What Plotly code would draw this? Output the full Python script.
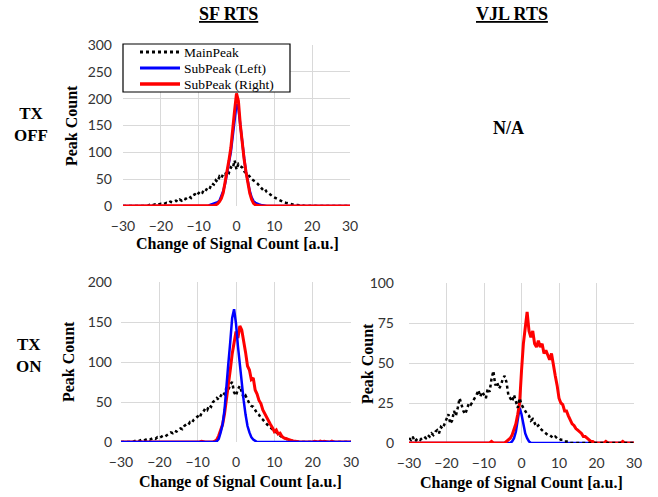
import plotly.graph_objects as go

# ---------------- data ----------------
BINS = [
    -30.0, -29.5, -29.0, -28.5, -28.0, -27.5, -27.0, -26.5, -26.0, -25.5,
    -25.0, -24.5, -24.0, -23.5, -23.0, -22.5, -22.0, -21.5, -21.0, -20.5,
    -20.0, -19.5, -19.0, -18.5, -18.0, -17.5, -17.0, -16.5, -16.0, -15.5,
    -15.0, -14.5, -14.0, -13.5, -13.0, -12.5, -12.0, -11.5, -11.0, -10.5,
    -10.0, -9.5, -9.0, -8.5, -8.0, -7.5, -7.0, -6.5, -6.0, -5.5,
    -5.0, -4.5, -4.0, -3.5, -3.0, -2.5, -2.0, -1.5, -1.0, -0.5,
    0.0, 0.5, 1.0, 1.5, 2.0, 2.5, 3.0, 3.5, 4.0, 4.5,
    5.0, 5.5, 6.0, 6.5, 7.0, 7.5, 8.0, 8.5, 9.0, 9.5,
    10.0, 10.5, 11.0, 11.5, 12.0, 12.5, 13.0, 13.5, 14.0, 14.5,
    15.0, 15.5, 16.0, 16.5, 17.0, 17.5, 18.0, 18.5, 19.0, 19.5,
    20.0, 20.5, 21.0, 21.5, 22.0, 22.5, 23.0, 23.5, 24.0, 24.5,
    25.0, 25.5, 26.0, 26.5, 27.0, 27.5, 28.0, 28.5, 29.0, 29.5,
    30.0,
]

Z10 = [0, 0, 0, 0, 0, 0, 0, 0, 0, 0]

# SF RTS, TX OFF
SF_OFF_MAIN = (Z10 +
    [0, 0, 0, 0, 2, 1, 2, 3, 2, 3] +
    [4, 3, 5, 6, 5, 8, 7, 9, 10, 8] +
    [12, 10, 14, 13, 16, 18, 15, 20, 22, 19] +
    [24, 28, 25, 32, 30, 36, 34, 42, 40, 48] +
    [45, 55, 52, 60, 58, 66, 62, 72, 70, 85] +
    [68, 78, 74, 72, 65, 62, 58, 55, 50, 48] +
    [45, 42, 38, 34, 30, 32, 26, 24, 20, 18] +
    [16, 14, 12, 10, 8, 7, 6, 5, 4, 3] +
    [3, 2, 2, 1, 1, 1, 0, 1, 0, 0] +
    [1, 0, 0, 0, 0, 0, 0, 0, 0, 0] +
    Z10 + [0])
SF_OFF_LEFT = (Z10 + Z10 + Z10 + Z10 +
    [0, 0, 0, 0, 1, 0, 2, 3, 4, 5] +
    [7, 10, 18, 28, 42, 60, 80, 100, 130, 165] +
    [190, 182, 148, 120, 90, 64, 44, 28, 16, 9] +
    [6, 4, 3, 2, 1, 1, 0, 0, 0, 0] +
    Z10 + Z10 + Z10 + Z10 + [0])
SF_OFF_RIGHT = (Z10 + Z10 + Z10 + Z10 +
    [0, 0, 0, 0, 0, 0, 0, 0, 1, 2] +
    [4, 8, 14, 25, 44, 62, 85, 108, 138, 178] +
    [210, 196, 152, 116, 88, 64, 42, 24, 12, 5] +
    [2, 1, 0, 0, 0, 0, 0, 0, 0, 0] +
    Z10 + Z10 + Z10 + Z10 + [0])

# SF RTS, TX ON
SF_ON_MAIN = (
    [0, 0, 0, 0, 0, 0, 0, 1, 2, 1] +
    [2, 3, 2, 3, 4, 3, 4, 5, 4, 6] +
    [5, 6, 8, 7, 9, 10, 12, 11, 14, 13] +
    [15, 17, 16, 20, 22, 21, 25, 24, 28, 30] +
    [32, 30, 36, 38, 42, 40, 46, 44, 50, 52] +
    [55, 53, 58, 62, 60, 68, 65, 72, 75, 62] +
    [58, 66, 70, 62, 55, 58, 52, 48, 45, 44] +
    [40, 36, 34, 30, 28, 25, 22, 20, 18, 16] +
    [13, 11, 9, 8, 6, 5, 4, 3, 2, 2] +
    [1, 1, 0, 0, 0, 0, 0, 0, 0, 0] +
    Z10 + Z10 + [0])
SF_ON_LEFT = (Z10 + Z10 + Z10 + Z10 + Z10 +
    [1, 4, 12, 22, 40, 65, 98, 125, 155, 166] +
    [148, 120, 95, 72, 52, 34, 20, 12, 6, 3] +
    [1, 0, 0, 0, 0, 0, 0, 0, 0, 0] +
    Z10 + Z10 + Z10 + Z10 + [0])
SF_ON_RIGHT = (Z10 + Z10 + Z10 + Z10 +
    [0, 0, 1, 0, 0, 0, 0, 0, 0, 1] +
    [3, 8, 15, 22, 35, 52, 70, 90, 110, 125] +
    [138, 130, 145, 140, 128, 112, 95, 90, 78, 80] +
    [65, 60, 52, 48, 40, 35, 30, 26, 22, 18] +
    [13, 15, 10, 11, 7, 5, 4, 3, 2, 1] +
    [1, 1, 0, 0, 0, 0, 0, 0, 0, 0] +
    [0, 1, 0, 0, 1, 0, 1, 0, 0, 0] +
    [1, 0, 0, 0, 0, 0, 0, 0, 0, 0] + [0])

# VJL RTS, TX ON
VJL_ON_MAIN = (
    [3, 2, 4, 1, 2, 3, 2, 3, 4, 3] +
    [5, 4, 6, 5, 7, 8, 6, 10, 9, 12] +
    [15, 18, 12, 14, 20, 17, 22, 28, 24, 20] +
    [18, 22, 25, 24, 26, 28, 30, 33, 29, 32] +
    [30, 28, 34, 32, 40, 45, 36, 38, 34, 36] +
    [40, 42, 38, 30, 28, 26, 30, 25, 22, 28] +
    [24, 22, 20, 18, 17, 14, 15, 12, 10, 11] +
    [9, 8, 7, 6, 5, 5, 4, 3, 4, 3] +
    [3, 2, 2, 1, 1, 1, 0, 0, 0, 0] +
    Z10 + Z10 + Z10 + [0])
VJL_ON_LEFT = (Z10 + Z10 + Z10 + Z10 + Z10 +
    [0, 0, 0, 0, 0, 1, 3, 7, 14, 22] +
    [18, 12, 6, 3, 1, 0, 0, 0, 0, 0] +
    Z10 + Z10 + Z10 + Z10 + Z10 + [0])
VJL_ON_RIGHT = (Z10 + Z10 + Z10 + Z10 +
    [0, 0, 0, 0, 1, 0, 0, 0, 0, 0] +
    [0, 0, 1, 2, 3, 5, 8, 12, 18, 25] +
    [45, 62, 72, 82, 70, 66, 70, 62, 60, 64] +
    [60, 62, 56, 58, 55, 52, 56, 48, 42, 36] +
    [28, 25, 24, 20, 20, 17, 14, 12, 11, 9] +
    [8, 7, 6, 4, 4, 3, 2, 1, 1, 0] +
    [0, 0, 0, 0, 0, 1, 0, 0, 0, 0] +
    [0, 0, 0, 0, 1, 0, 0, 0, 0, 0] + [0])

SERIES_NAMES = ["MainPeak", "SubPeak (Left)", "SubPeak (Right)"]
X_TICKS = [-30, -20, -10, 0, 10, 20, 30]

# ---------------- styling ----------------
SERIF = "Liberation Serif, Times New Roman, serif"
SANS = "Lato, Open Sans, sans-serif"
GRID = "#d9d9d9"

STYLE = {
    "MainPeak": dict(color="black", width=2.5, dash="dot"),
    "SubPeak (Left)": dict(color="#0000ff", width=2.5),
    "SubPeak (Right)": dict(color="#ff0000", width=3),
}

fig = go.Figure()


def add(name, ys, xa, ya):
    fig.add_trace(go.Scatter(
        x=BINS, y=ys, mode="lines", name=name, line=STYLE[name],
        xaxis=xa, yaxis=ya, showlegend=False,
    ))


add("MainPeak", SF_OFF_MAIN, "x", "y")
add("SubPeak (Left)", SF_OFF_LEFT, "x", "y")
add("SubPeak (Right)", SF_OFF_RIGHT, "x", "y")

add("MainPeak", SF_ON_MAIN, "x2", "y2")
add("SubPeak (Right)", SF_ON_RIGHT, "x2", "y2")
add("SubPeak (Left)", SF_ON_LEFT, "x2", "y2")

add("SubPeak (Left)", VJL_ON_LEFT, "x3", "y3")
add("SubPeak (Right)", VJL_ON_RIGHT, "x3", "y3")
add("MainPeak", VJL_ON_MAIN, "x3", "y3")

W, H = 658, 497


def px(x):
    return x / W


def py(y):
    return 1 - y / H


def xd(a, b):
    return [px(a), px(b)]


def yd(top, bottom):
    return [py(bottom), py(top)]


def xaxis(dom, anchor):
    return dict(domain=dom, anchor=anchor, range=[-30, 30], tickvals=X_TICKS,
                showgrid=True, gridcolor=GRID, gridwidth=1, zeroline=False,
                showline=False, ticks="", ticklabelstandoff=10, automargin=False,
                tickfont=dict(family=SANS, size=14, color="#333333"))


def yaxis(dom, anchor, rng, dtick, standoff):
    return dict(domain=dom, anchor=anchor, range=rng, dtick=dtick,
                showgrid=True, gridcolor=GRID, gridwidth=1, zeroline=False,
                showline=False, ticks="", ticklabelstandoff=standoff, automargin=False,
                tickfont=dict(family=SANS, size=14, color="#333333"))


ann = []
shapes = []


def text(x, y, t, size=16, angle=0, anchor="center"):
    ann.append(dict(x=px(x), y=py(y), xref="paper", yref="paper", text=t,
                    showarrow=False, textangle=angle, xanchor=anchor, yanchor="middle",
                    font=dict(family=SERIF, size=size, color="black")))


text(228, 14, "<b><u>SF RTS</u></b>", 18)
text(512, 14, "<b><u>VJL RTS</u></b>", 18)
text(31, 125, "<b>TX<br>OFF</b>", 17)
text(29, 355, "<b>TX<br>ON</b>", 17)
text(508, 128, "<b>N/A</b>", 18)

XT = "<b>Change of Signal Count [a.u.]</b>"
YT = "<b>Peak Count</b>"
text(237, 244, XT)
text(240, 482, XT)
text(521, 483, XT)
text(71, 126, YT, angle=-90)
text(68, 362, YT, angle=-90)
text(367, 364, YT, angle=-90)

# legend key (top-left panel)
shapes.append(dict(type="rect", xref="paper", yref="paper",
                   x0=px(123), x1=px(290), y0=py(92), y1=py(44),
                   line=dict(color="black", width=1.2), fillcolor="white", layer="above"))
for i, name in enumerate(SERIES_NAMES):
    yy = 52 + 16 * i
    st = STYLE[name]
    shapes.append(dict(type="line", xref="paper", yref="paper",
                       x0=px(140), x1=px(180), y0=py(yy), y1=py(yy),
                       line=dict(color=st["color"], width=st["width"] + 0.5,
                                 dash=st.get("dash", "solid")), layer="above"))
    ann.append(dict(x=px(182), y=py(yy), xref="paper", yref="paper", text=name,
                    showarrow=False, xanchor="left", yanchor="middle",
                    font=dict(family=SERIF, size=13.5, color="black")))

fig.update_layout(
    width=W, height=H,
    margin=dict(l=0, r=0, t=0, b=0, pad=0, autoexpand=False),
    paper_bgcolor="white", plot_bgcolor="white",
    xaxis=xaxis(xd(123, 350), "y"),
    yaxis=yaxis(yd(45, 206), "x", [0, 300], 50, 10),
    xaxis2=xaxis(xd(121, 351), "y2"),
    yaxis2=yaxis(yd(282, 442), "x2", [0, 200], 50, 8),
    xaxis3=xaxis(xd(409, 634), "y3"),
    yaxis3=yaxis(yd(283, 443), "x3", [0, 100], 25, 14),
    annotations=ann,
    shapes=shapes,
    showlegend=False,
)

fig.write_html("out.html", config={"displayModeBar": False},
               post_script="document.body.style.margin='0px';")
